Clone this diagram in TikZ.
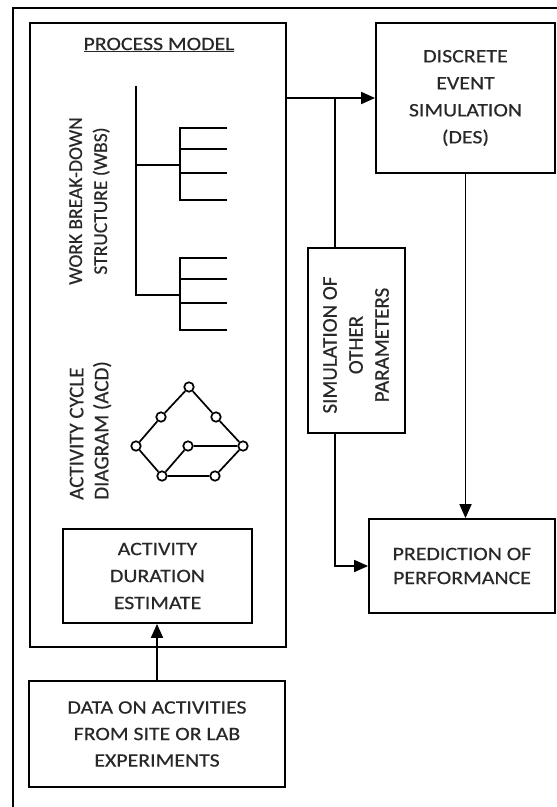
\documentclass[tikz,border=0pt]{standalone}
\usepackage{fontspec}
\setmainfont{Carlito}[FakeStretch=1.15,FakeBold=0.4]
\newfontfamily\rotfont{Carlito}[FakeBold=0.4]
\usetikzlibrary{arrows.meta}
\definecolor{txt}{RGB}{40,40,40}
\begin{document}
\begin{tikzpicture}[x=1pt,y=-1pt,
  box/.style={draw, line width=1.8pt, inner sep=0pt, align=center, text=txt,
    font=\fontsize{19}{26.5}\selectfont},
  wire/.style={line width=1.8pt},
  arr/.style={wire, -{Triangle[length=14pt,width=12pt]}},
  dot/.style={circle, draw, line width=1.7pt, minimum size=9.5pt, inner sep=0pt, fill=white},
  acd/.style={line width=1.7pt},
  rot/.style={rotate=90, align=center, text=txt, inner sep=0pt}]
\useasboundingbox (0,0) rectangle (557,807);
\fill[white] (0,0) rectangle (557,807);
% outer frame (cut off at right and bottom)
\coordinate (ftr) at (557,8);
\coordinate (fbl) at (13,807);
\draw[wire] (ftr) -- (fbl |- ftr) -- (fbl);
% process model container
\node[box, minimum width=256pt, minimum height=624pt] (pm) at (158,335) {};
\node[text=txt, font=\fontsize{19}{26}\selectfont, inner sep=0pt] (pmt) at (159,45) {\underline{PROCESS MODEL}};
% WBS tree
\draw[wire] (136,86) -- (136,295) -- (180,295);
\draw[wire] (136,165) -- (180,165);
\draw[wire] (227,128) -| (180,200) -- (227,200);
\draw[wire] (180,149) -- (227,149);
\draw[wire] (180,173) -- (227,173);
\draw[wire] (227,258) -| (180,330) -- (227,330);
\draw[wire] (180,279) -- (227,279);
\draw[wire] (180,303) -- (227,303);
\node[rot, font=\rotfont\fontsize{19.5}{25}\selectfont] (wbs) at (89.5,201) {WORK BREAK-DOWN\\STRUCTURE (WBS)};
% ACD
\node[rot, align=left, font=\rotfont\fontsize{21}{25}\selectfont] (acdl) at (90.5,430.5) {ACTIVITY CYCLE\\DIAGRAM (ACD)};
\node[dot] (a) at (189,387) {};
\node[dot] (b) at (161,417) {};
\node[dot] (c) at (216,417) {};
\node[dot] (d) at (136,446) {};
\node[dot] (e) at (188,446) {};
\node[dot] (f) at (243,446) {};
\node[dot] (g) at (162,476) {};
\node[dot] (h) at (215,476) {};
\draw[acd] (a) -- (b) (b) -- (d) (a) -- (c) (c) -- (f) (d) -- (g) (g) -- (e) (e) -- (f) (g) -- (h) (h) -- (f);
% boxes
\node[box, minimum width=179pt, minimum height=150pt, font=\fontsize{19}{27}\selectfont] (des) at (465.5,98) {DISCRETE\\EVENT\\SIMULATION\\(DES)};
\node[box, minimum width=97pt, minimum height=185pt] (sim) at (356.5,340.5) {};
\node[rot, font=\rotfont\fontsize{21}{26}\selectfont] (simt) at (356,345) {SIMULATION OF\\OTHER\\PARAMETERS};
\node[box, minimum width=186pt, minimum height=94pt, font=\fontsize{19}{24}\selectfont] (pred) at (462,566) {PREDICTION OF\\PERFORMANCE};
\node[box, minimum width=189pt, minimum height=94pt, font=\fontsize{19}{27}\selectfont] (ade) at (157.5,576) {ACTIVITY\\DURATION\\ESTIMATE};
\node[box, minimum width=256pt, minimum height=106pt] (data) at (157,734) {DATA ON ACTIVITIES\\FROM SITE OR LAB\\EXPERIMENTS};
% connectors
\coordinate (J) at (335,98);
\draw[arr] (pm.east |- des.west) -- (des.west);
\draw[wire] (J) -- (J |- sim.north);
\draw[arr] (J |- sim.south) |- (pred.west);
\draw[arr] (des.south) -- (des.south |- pred.north);
\draw[arr] (data.north) -- (data.north |- ade.south);
\end{tikzpicture}
\end{document}
